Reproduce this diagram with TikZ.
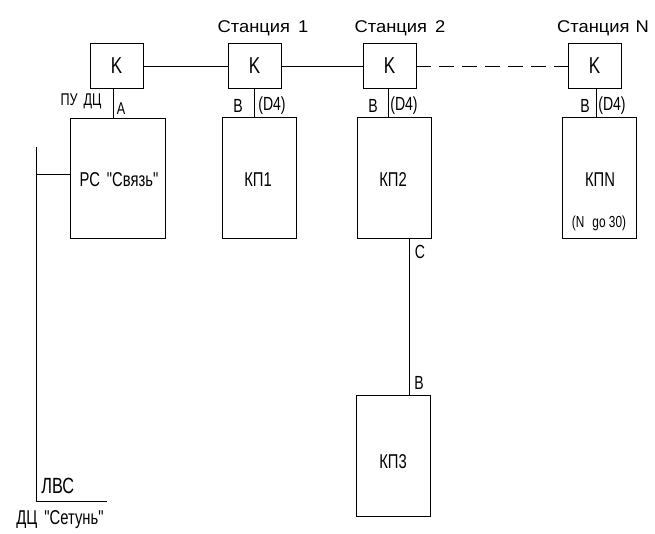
\documentclass[tikz,border=0pt]{standalone}
\usepackage{fontspec}
\setmainfont{Liberation Sans}
\newfontfamily\nf{Liberation Sans}[FakeStretch=0.74]
\newfontfamily\wf{Liberation Sans}[FakeStretch=1.08]
\begin{document}
\begin{tikzpicture}[x=1pt,y=-1pt,line width=0.8pt,
  kbox/.style={draw,rectangle,minimum width=53pt,minimum height=45pt,inner sep=0pt,font=\nf\fontsize{23}{23}\selectfont},
  kpbox/.style={draw,rectangle,minimum width=74pt,minimum height=121pt,inner sep=0pt},
  lbl/.style={inner sep=0pt,font=\nf\fontsize{20}{20}\selectfont},
  pin/.style={inner sep=0pt,font=\nf\fontsize{19}{19}\selectfont},
  small/.style={inner sep=0pt,font=\nf\fontsize{17}{17}\selectfont},
  stat/.style={inner sep=0pt,font=\wf\fontsize{17}{17}\selectfont},
  dashline/.style={dash pattern=on 15pt off 8pt}]
\useasboundingbox (0,0) rectangle (655,533);
% K boxes
\node[kbox] (K0) at (116.5,66) {K};
\node[kbox] (K1) at (254.5,66) {K};
\node[kbox] (K2) at (389.5,66) {K};
\node[kbox] (KN) at (594.5,66) {K};
% station labels
\node[stat] (s1) at (263,28) {Станция\hspace{8pt}1};
\node[stat] (s2) at (400,28) {Станция\hspace{8pt}2};
\node[stat] (sn) at (603,28) {Станция\hspace{6pt}N};
% main boxes
\node[kpbox,minimum width=95pt,minimum height=120pt] (RS) at (117.5,178) {};
\node[lbl] at (119,180) {РС\hspace{7pt}"Связь"};
\node[kpbox] (KP1) at (259.5,177.5) {};
\node[lbl] at (258,180) {КП1};
\node[kpbox] (KP2) at (394,177.5) {};
\node[lbl] at (393,180) {КП2};
\node[kpbox] (KPN) at (599,177.5) {};
\node[lbl] at (600,180) {КПN};
\node[inner sep=0pt,font=\nf\fontsize{16}{16}\selectfont] at (599,223) {(N\hspace{8pt}go 30)};
\node[kpbox] (KP3) at (393.5,455.5) {};
\node[lbl] at (393,462) {КП3};
% horizontal links
\draw (K0) -- (K1);
\draw (K1) -- (K2);
\draw[dashline] (K2) -- (KN);
% vertical links
\draw ([xshift=-3.5pt]K0.south) -- ([xshift=-3.5pt]K0.south |- RS.north);
\draw (K1.south) -- (K1.south |- KP1.north);
\draw ([xshift=-1.5pt]K2.south) -- ([xshift=-1.5pt]K2.south |- KP2.north);
\draw ([xshift=1.5pt]KN.south) -- ([xshift=1.5pt]KN.south |- KPN.north);
\draw ([xshift=15pt]KP2.south) -- ([xshift=15pt]KP2.south |- KP3.north);
% link labels
\node[small] at (81,101) {ПУ\hspace{6pt}ДЦ};
\node[small] at (121,109) {A};
\node[pin] at (238,106) {B};
\node[pin] at (272,106) {(D4)};
\node[pin] at (373,106) {B};
\node[pin] at (404,106) {(D4)};
\node[pin] at (585,106) {B};
\node[pin] at (612,106) {(D4)};
\node[pin] at (420,252) {C};
\node[pin] at (419,383) {B};
% LAN
\coordinate (ltop) at (36,147);
\coordinate (lbot) at (36,501);
\coordinate (lend) at (107,501);
\coordinate (lbr) at (36,174);
\draw (ltop) -- (lbot) -- (lend);
\draw (lbr) -- (lbr -| RS.west);
\node[inner sep=0pt,font=\nf\fontsize{22}{22}\selectfont,anchor=west] at (41,486) {ЛВС};
\node[lbl] at (60,520) {ДЦ\hspace{7pt}"Сетунь"};
\end{tikzpicture}
\end{document}
